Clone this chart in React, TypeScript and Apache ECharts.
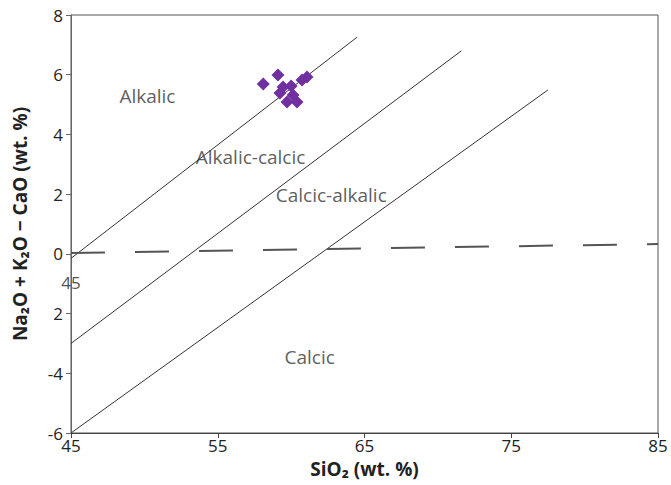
import React, { useEffect, useRef } from "react";
import * as echarts from "echarts";

// Data
const samplePoints: [number, number][] = [
  [58.1, 5.69],
  [59.1, 5.99],
  [60.74, 5.82],
  [61.08, 5.92],
  [59.45, 5.59],
  [59.24, 5.39],
  [60.13, 5.32],
  [59.72, 5.09],
  [60.4, 5.09],
  [60.0, 5.62],
];

// Boundary lines (start, end)
const alkalicBoundary: [number, number][] = [[45, -0.15], [64.5, 7.26]];
const alkalicCalcicBoundary: [number, number][] = [[45, -3.0], [71.6, 6.8]];
const calcicAlkalicBoundary: [number, number][] = [[45, -6.0], [77.5, 5.49]];
const dashedLine: [number, number][] = [[45, 0.03], [85, 0.33]];

const regionLabels: { name: string; value: [number, number] }[] = [
  { name: "Alkalic", value: [48.3, 5.29] },
  { name: "Alkalic-calcic", value: [53.5, 3.25] },
  { name: "Calcic-alkalic", value: [58.95, 1.97] },
  { name: "Calcic", value: [59.55, -3.45] },
];
const strayLabel: { name: string; value: [number, number] }[] = [
  { name: "45", value: [45, -0.97] },
];

const xTicks = [45, 55, 65, 75, 85];

const FONT = "'Open Sans', 'Noto Sans', sans-serif";

export default function App() {
  const ref = useRef<HTMLDivElement>(null);
  useEffect(() => {
    if (!ref.current) return;
    const chart = echarts.init(ref.current, null, { renderer: "svg" });
    const lineStyleSolid = { color: "#333", width: 1 };
    chart.setOption({
      animation: false,
      backgroundColor: "#ffffff",
      grid: {
        left: 71,
        right: 13,
        top: 15,
        bottom: 52,
        show: true,
        borderColor: "#555",
        borderWidth: 1,
      },
      xAxis: {
        type: "value",
        min: 45,
        max: 85,
        name: "SiO₂ (wt. %)",
        nameLocation: "middle",
        nameGap: 26,
        nameTextStyle: { fontFamily: FONT, fontWeight: "bold", fontSize: 19, color: "#222" },
        axisLine: { show: true, onZero: false, lineStyle: { color: "#444" } },
        axisTick: { show: true, length: 5, customValues: xTicks, lineStyle: { color: "#444" } },
        axisLabel: {
          customValues: xTicks,
          fontFamily: FONT,
          fontSize: 17,
          color: "#222",
          margin: 4,
        },
        splitLine: { show: false },
      },
      yAxis: {
        type: "value",
        min: -6,
        max: 8,
        interval: 2,
        name: "Na₂O + K₂O − CaO (wt. %)",
        nameLocation: "middle",
        nameGap: 42,
        nameTextStyle: { fontFamily: FONT, fontWeight: "bold", fontSize: 19, color: "#222" },
        axisLine: { show: true, onZero: false, lineStyle: { color: "#666" } },
        axisTick: { show: true, length: 5, lineStyle: { color: "#666" } },
        axisLabel: {
          fontFamily: FONT,
          fontSize: 17,
          color: "#222",
          margin: 8,
          formatter: (v: number) => (v === -2 ? "2" : String(v)),
        },
        splitLine: { show: false },
      },
      series: [
        { type: "line", data: alkalicBoundary, symbol: "none", lineStyle: lineStyleSolid, z: 2 },
        { type: "line", data: alkalicCalcicBoundary, symbol: "none", lineStyle: lineStyleSolid, z: 2 },
        { type: "line", data: calcicAlkalicBoundary, symbol: "none", lineStyle: lineStyleSolid, z: 2 },
        {
          type: "line",
          data: dashedLine,
          symbol: "none",
          lineStyle: { color: "#555", width: 2, type: [34, 30] },
          z: 2,
        },
        {
          type: "scatter",
          data: samplePoints,
          symbol: "diamond",
          symbolSize: 13,
          itemStyle: { color: "#7030A0", opacity: 1 },
          z: 3,
        },
        {
          type: "scatter",
          data: regionLabels,
          symbolSize: 0,
          silent: true,
          label: {
            show: true,
            position: "right",
            distance: 0,
            formatter: (p: any) => p.name,
            fontFamily: FONT,
            fontSize: 19,
            color: "#333",
          },
          z: 4,
        },
        {
          type: "scatter",
          data: strayLabel,
          symbolSize: 0,
          silent: true,
          label: {
            show: true,
            position: "inside",
            formatter: (p: any) => p.name,
            fontFamily: FONT,
            fontSize: 17,
            color: "#222",
          },
          z: 4,
        },
      ],
    });
    return () => chart.dispose();
  }, []);
  return (
    <div
      ref={ref}
      style={{ position: "absolute", left: 0, top: 0, width: 671, height: 485 }}
    />
  );
}
